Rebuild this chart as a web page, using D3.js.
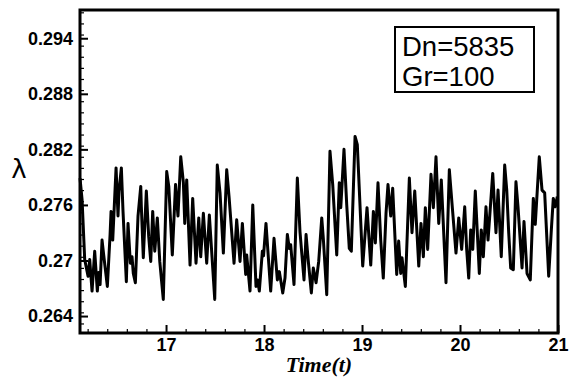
<!DOCTYPE html>
<html lang="en">
    <head>
        <meta charset="utf-8" />
        <title></title>
        <script src="https://cdn.jsdelivr.net/npm/d3@7"></script>
        <style type="text/css">
            body { margin: 0; background: #fff; }
            svg { display: block; }
        </style>
    </head>
    <body>
        <script type="text/javascript">
            // time series (peaks and troughs)
            var time = [16.122, 16.143, 16.170, 16.204, 16.221, 16.245, 16.272, 16.299, 16.313, 16.327,
                16.347, 16.367, 16.401, 16.429, 16.439, 16.456, 16.490, 16.510, 16.520, 16.544,
                16.561, 16.595, 16.612, 16.636, 16.653, 16.666, 16.687, 16.714, 16.742, 16.748,
                16.768, 16.799, 16.823, 16.844, 16.864, 16.885, 16.911, 16.936, 16.972, 17.007,
                17.028, 17.064, 17.097, 17.122, 17.150, 17.177, 17.191, 17.211, 17.245, 17.272,
                17.306, 17.334, 17.354, 17.381, 17.415, 17.442, 17.497, 17.523, 17.551, 17.585,
                17.619, 17.643, 17.694, 17.721, 17.755, 17.779, 17.813, 17.823, 17.857, 17.885,
                17.918, 17.935, 17.952, 17.983, 17.995, 18.020, 18.068, 18.102, 18.136, 18.156,
                18.191, 18.214, 18.238, 18.258, 18.272, 18.306, 18.340, 18.367, 18.408, 18.429,
                18.452, 18.483, 18.503, 18.531, 18.558, 18.589, 18.605, 18.640, 18.673, 18.701,
                18.742, 18.768, 18.783, 18.816, 18.844, 18.870, 18.891, 18.929, 18.952, 19.007,
                19.051, 19.089, 19.116, 19.136, 19.163, 19.191, 19.217, 19.245, 19.265, 19.293,
                19.313, 19.354, 19.374, 19.395, 19.408, 19.442, 19.483, 19.510, 19.538, 19.579,
                19.602, 19.626, 19.646, 19.670, 19.704, 19.728, 19.755, 19.783, 19.809, 19.857,
                19.891, 19.918, 19.959, 19.987, 20.017, 20.048, 20.068, 20.089, 20.109, 20.130,
                20.156, 20.197, 20.217, 20.238, 20.265, 20.286, 20.334, 20.367, 20.388, 20.421,
                20.456, 20.477, 20.497, 20.517, 20.544, 20.571, 20.592, 20.633, 20.653, 20.684,
                20.717, 20.748, 20.768, 20.809, 20.837, 20.864, 20.905, 20.932, 20.952, 20.973,
                20.993];
            var lambda = [0.2789, 0.2766, 0.2701, 0.2683, 0.2701, 0.2667, 0.2710, 0.2667, 0.2687, 0.2674,
                0.2722, 0.2703, 0.2672, 0.2728, 0.2753, 0.2722, 0.2800, 0.2748, 0.2775, 0.2800,
                0.2753, 0.2677, 0.2740, 0.2697, 0.2704, 0.2686, 0.2676, 0.2748, 0.2780, 0.2758,
                0.2703, 0.2775, 0.2726, 0.2699, 0.2753, 0.2710, 0.2746, 0.2699, 0.2658, 0.2796,
                0.2780, 0.2706, 0.2782, 0.2748, 0.2812, 0.2784, 0.2740, 0.2787, 0.2695, 0.2767,
                0.2697, 0.2746, 0.2704, 0.2751, 0.2697, 0.2749, 0.2658, 0.2803, 0.2773, 0.2708,
                0.2798, 0.2769, 0.2697, 0.2744, 0.2699, 0.2740, 0.2685, 0.2706, 0.2667, 0.2760,
                0.2672, 0.2679, 0.2667, 0.2710, 0.2705, 0.2740, 0.2667, 0.2724, 0.2679, 0.2688,
                0.2665, 0.2681, 0.2728, 0.2713, 0.2717, 0.2674, 0.2789, 0.2731, 0.2679, 0.2728,
                0.2699, 0.2665, 0.2692, 0.2676, 0.2699, 0.2746, 0.2724, 0.2663, 0.2818, 0.2782,
                0.2706, 0.2784, 0.2757, 0.2820, 0.2760, 0.2713, 0.2710, 0.2834, 0.2825, 0.2694,
                0.2757, 0.2695, 0.2753, 0.2719, 0.2784, 0.2722, 0.2681, 0.2751, 0.2782, 0.2748,
                0.2778, 0.2685, 0.2721, 0.2686, 0.2703, 0.2672, 0.2789, 0.2730, 0.2775, 0.2694,
                0.2740, 0.2704, 0.2757, 0.2712, 0.2793, 0.2757, 0.2812, 0.2740, 0.2787, 0.2676,
                0.2798, 0.2762, 0.2708, 0.2746, 0.2712, 0.2758, 0.2712, 0.2681, 0.2733, 0.2712,
                0.2775, 0.2686, 0.2733, 0.2704, 0.2758, 0.2722, 0.2794, 0.2730, 0.2776, 0.2704,
                0.2803, 0.2776, 0.2730, 0.2692, 0.2690, 0.2785, 0.2758, 0.2692, 0.2742, 0.2686,
                0.2679, 0.2767, 0.2739, 0.2812, 0.2776, 0.2773, 0.2683, 0.2733, 0.2767, 0.2758,
                0.2769];

            var xMajor = [17, 18, 19, 20, 21];
            var yMajor = [0.264, 0.27, 0.276, 0.282, 0.288, 0.294];
            var xDomain = [16.122, 21];
            var yDomain = [0.26217, 0.29705];
            var legendLines = ["Dn=5835", "Gr=100"];

            var W = 571, H = 378;
            var pLeft = 80, pRight = 558, pTop = 10, pBottom = 333;
            var labelFont = "'Liberation Sans', Arial, sans-serif";

            var svg = d3.select("body").append("svg")
                .attr("width", W)
                .attr("height", H);

            var x = d3.scaleLinear().domain(xDomain).range([pLeft, pRight]);
            var y = d3.scaleLinear().domain(yDomain).range([pBottom, pTop]);

            // minor ticks: every 0.2 on x, every 0.0012 on y
            var xMinor = d3.range(16.2, 21.001, 0.2).filter(function (v) { return Math.abs(v - Math.round(v)) > 1e-6; });
            var yMinor = d3.range(0.2632, 0.2970, 0.0012).filter(function (v) {
                return !yMajor.some(function (m) { return Math.abs(m - v) < 1e-6; });
            });

            // data line
            var pts = time.map(function (t, i) { return [t, lambda[i]]; });
            svg.append("path")
                .datum(pts)
                .attr("fill", "none")
                .attr("stroke", "#000")
                .attr("stroke-width", 3)
                .attr("stroke-linejoin", "round")
                .attr("d", d3.line()
                    .x(function (d) { return x(d[0]); })
                    .y(function (d) { return y(d[1]); }));

            // minor ticks
            svg.append("g")
                .attr("transform", "translate(0," + pBottom + ")")
                .call(d3.axisBottom(x).tickValues(xMinor).tickSize(-4).tickFormat(""))
                .call(function (g) { g.select(".domain").remove(); })
                .selectAll("line").attr("stroke", "#000").attr("stroke-width", 1.2);
            svg.append("g")
                .attr("transform", "translate(" + pLeft + ",0)")
                .call(d3.axisLeft(y).tickValues(yMinor).tickSize(-4).tickFormat(""))
                .call(function (g) { g.select(".domain").remove(); })
                .selectAll("line").attr("stroke", "#000").attr("stroke-width", 1.2);

            // major ticks + labels
            var gx = svg.append("g")
                .attr("transform", "translate(0," + pBottom + ")")
                .call(d3.axisBottom(x).tickValues(xMajor).tickSizeInner(-8).tickSizeOuter(0).tickFormat(d3.format("d")));
            gx.select(".domain").remove();
            gx.selectAll("line").attr("stroke", "#000").attr("stroke-width", 2);
            gx.selectAll("text")
                .attr("y", 18).attr("dy", null)
                .style("font-family", labelFont).style("font-weight", "bold").style("font-size", "18px").attr("fill", "#000");

            var gy = svg.append("g")
                .attr("transform", "translate(" + pLeft + ",0)")
                .call(d3.axisLeft(y).tickValues(yMajor).tickSizeInner(-8).tickSizeOuter(0).tickFormat(function (d) { return String(+d.toFixed(3)); }));
            gy.select(".domain").remove();
            gy.selectAll("line").attr("stroke", "#000").attr("stroke-width", 2);
            gy.selectAll("text")
                .attr("x", -7)
                .style("font-family", labelFont).style("font-weight", "bold").style("font-size", "18px").attr("fill", "#000");

            // frame
            svg.append("rect")
                .attr("x", pLeft).attr("y", pTop)
                .attr("width", pRight - pLeft).attr("height", pBottom - pTop)
                .attr("fill", "none")
                .attr("stroke", "#000")
                .attr("stroke-width", 3);

            // axis titles
            svg.append("text")
                .attr("x", (pLeft + pRight) / 2)
                .attr("y", 372)
                .attr("text-anchor", "middle")
                .style("font-family", "'Liberation Serif', 'Times New Roman', serif")
                .style("font-style", "italic")
                .style("font-weight", "bold")
                .style("font-size", "22px")
                .text("Time(t)");

            svg.append("text")
                .attr("x", 19)
                .attr("y", 178)
                .attr("text-anchor", "middle")
                .style("font-family", "'DejaVu Sans', sans-serif")
                .style("font-size", "26px")
                .text("λ");

            // legend box
            svg.append("rect")
                .attr("x", 395).attr("y", 27)
                .attr("width", 139).attr("height", 65)
                .attr("fill", "#fff")
                .attr("stroke", "#000")
                .attr("stroke-width", 2);

            svg.selectAll(".leg")
                .data(legendLines)
                .enter()
                .append("text")
                .attr("class", "leg")
                .attr("x", 402)
                .attr("y", function (d, i) { return 56 + i * 30; })
                .style("font-family", labelFont)
                .style("font-size", "27.5px")
                .text(function (d) { return d; });
        </script>
    </body>
</html>
